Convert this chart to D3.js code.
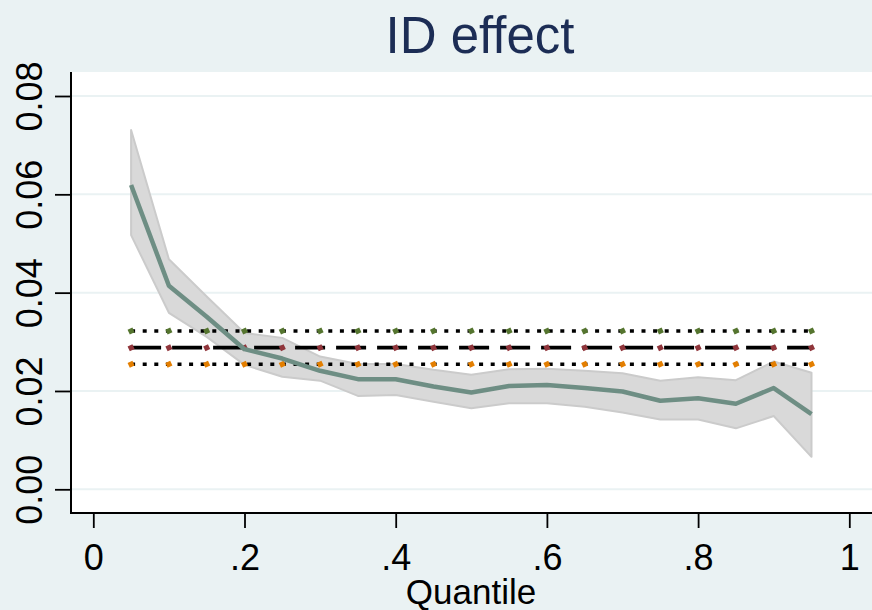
<!DOCTYPE html>
<html>
<head>
<meta charset="utf-8">
<script src="https://cdn.jsdelivr.net/npm/d3@7"></script>
<style>
  html, body { margin: 0; padding: 0; background: #eaf2f3; }
  svg { display: block; }
  text { font-family: "Liberation Sans", Arial, Helvetica, sans-serif; }
</style>
</head>
<body>
<svg id="chart" width="872" height="610"></svg>
<script>
// Quantile grid of the estimates
const quantiles = [0.05, 0.10, 0.15, 0.20, 0.25, 0.30, 0.35, 0.40, 0.45, 0.50,
                   0.55, 0.60, 0.65, 0.70, 0.75, 0.80, 0.85, 0.90, 0.95];
// Quantile-regression coefficient of ID
const coef   = [0.0619, 0.0414, 0.0351, 0.0285, 0.0266, 0.0241, 0.0224, 0.0224, 0.0209, 0.0197,
                0.0210, 0.0212, 0.0206, 0.0199, 0.0180, 0.0185, 0.0174, 0.0206, 0.0153];
// 95% confidence bounds
const ciHigh = [0.0731, 0.0468, 0.0392, 0.0318, 0.0308, 0.0270, 0.0255, 0.0255, 0.0243, 0.0233,
                0.0244, 0.0245, 0.0241, 0.0236, 0.0221, 0.0228, 0.0222, 0.0260, 0.0237];
const ciLow  = [0.0517, 0.0359, 0.0310, 0.0253, 0.0229, 0.0221, 0.0190, 0.0192, 0.0178, 0.0165,
                0.0175, 0.0175, 0.0168, 0.0156, 0.0142, 0.0142, 0.0124, 0.0149, 0.0066];
// OLS estimate and its confidence bounds (constant across quantiles)
const olsCoef = 0.02881;
const olsHigh = 0.03220;
const olsLow  = 0.02543;

const xTicks = [0, 0.2, 0.4, 0.6, 0.8, 1];
const xTickLabels = ["0", ".2", ".4", ".6", ".8", "1"];
const yTicks = [0, 0.02, 0.04, 0.06, 0.08];
const yTickLabels = ["0.00", "0.02", "0.04", "0.06", "0.08"];

const titleText = "ID effect";
const xTitle = "Quantile";

const svg = d3.select("#chart");
const W = 872, H = 610;
const plot = { left: 71, right: 872, top: 72, bottom: 513 };

const x = d3.scaleLinear().domain([0, 1]).range([93.3, 849.3]);
const y = d3.scaleLinear().domain([0, 0.08]).range([489.3, 96]);

// Graph region background
svg.append("rect").attr("width", W).attr("height", H).attr("fill", "#eaf2f3");
// Plot region
svg.append("rect")
  .attr("x", plot.left).attr("y", plot.top)
  .attr("width", plot.right - plot.left).attr("height", plot.bottom - plot.top)
  .attr("fill", "#ffffff");

// Horizontal grid lines
svg.append("g").selectAll("line").data(yTicks).join("line")
  .attr("x1", plot.left).attr("x2", plot.right)
  .attr("y1", d => y(d)).attr("y2", d => y(d))
  .attr("stroke", "#eaf2f3").attr("stroke-width", 2);

const rows = quantiles.map((q, i) => ({ q, b: coef[i], hi: ciHigh[i], lo: ciLow[i] }));

// Confidence band
svg.append("path").datum(rows)
  .attr("d", d3.area().x(d => x(d.q)).y0(d => y(d.lo)).y1(d => y(d.hi)))
  .attr("fill", "#d9d9d9").attr("stroke", "#cbcbcb").attr("stroke-width", 2)
  .attr("stroke-linejoin", "round");

// OLS reference lines with markers
const refLines = [
  { v: olsHigh, dash: "4,7.6", color: "#55752f" },
  { v: olsCoef, dash: "30,11", color: "#90353b" },
  { v: olsLow,  dash: "4,7.6", color: "#e37e00" }
];
const flat = d3.line().x(d => x(d.q)).y(d => y(d.v));
refLines.forEach(r => {
  const pts = quantiles.map(q => ({ q, v: r.v }));
  svg.append("path").datum(pts)
    .attr("d", flat)
    .attr("fill", "none").attr("stroke", "#000")
    .attr("stroke-width", 3.6).attr("stroke-dasharray", r.dash);
  svg.append("g").selectAll("path").data(pts).join("path")
    .attr("d", d3.symbol(d3.symbolDiamond2, 36))
    .attr("transform", d => `translate(${x(d.q)},${y(d.v)}) rotate(20)`)
    .attr("fill", r.color);
});

// Point estimates
svg.append("path").datum(rows)
  .attr("d", d3.line().x(d => x(d.q)).y(d => y(d.b)))
  .attr("fill", "none").attr("stroke", "#6e8e84").attr("stroke-width", 4.5)
  .attr("stroke-linejoin", "round");

// Y axis
const yAxis = svg.append("g")
  .attr("transform", `translate(${plot.left},0)`)
  .call(d3.axisLeft(y).tickValues(yTicks).tickSize(16)
        .tickFormat((d, i) => yTickLabels[i]));
yAxis.select(".domain").remove();
yAxis.selectAll(".tick line").attr("stroke", "#000").attr("stroke-width", 1.8);
yAxis.selectAll(".tick text")
  .attr("x", 0).attr("y", 0).attr("dy", 0)
  .attr("transform", "translate(-29,0) rotate(-90)")
  .attr("text-anchor", "middle")
  .attr("font-size", 36).attr("fill", "#000");
svg.append("line")
  .attr("x1", plot.left).attr("x2", plot.left)
  .attr("y1", plot.top).attr("y2", plot.bottom + 1)
  .attr("stroke", "#000").attr("stroke-width", 2);

// X axis
const xAxis = svg.append("g")
  .attr("transform", `translate(0,${plot.bottom})`)
  .call(d3.axisBottom(x).tickValues(xTicks).tickSize(15)
        .tickFormat((d, i) => xTickLabels[i]));
xAxis.select(".domain").remove();
xAxis.selectAll(".tick line").attr("stroke", "#000").attr("stroke-width", 1.8);
xAxis.selectAll(".tick text")
  .attr("y", 57).attr("dy", 0)
  .attr("font-size", 36).attr("fill", "#000");
svg.append("line")
  .attr("x1", plot.left - 1).attr("x2", plot.right)
  .attr("y1", plot.bottom).attr("y2", plot.bottom)
  .attr("stroke", "#000").attr("stroke-width", 2);

// Titles
svg.append("text")
  .attr("x", 480).attr("y", 53)
  .attr("text-anchor", "middle")
  .attr("font-size", 51).attr("fill", "#1c2d55")
  .text(titleText);
svg.append("text")
  .attr("x", 471).attr("y", 604)
  .attr("text-anchor", "middle")
  .attr("font-size", 35).attr("fill", "#000")
  .text(xTitle);
</script>
</body>
</html>
